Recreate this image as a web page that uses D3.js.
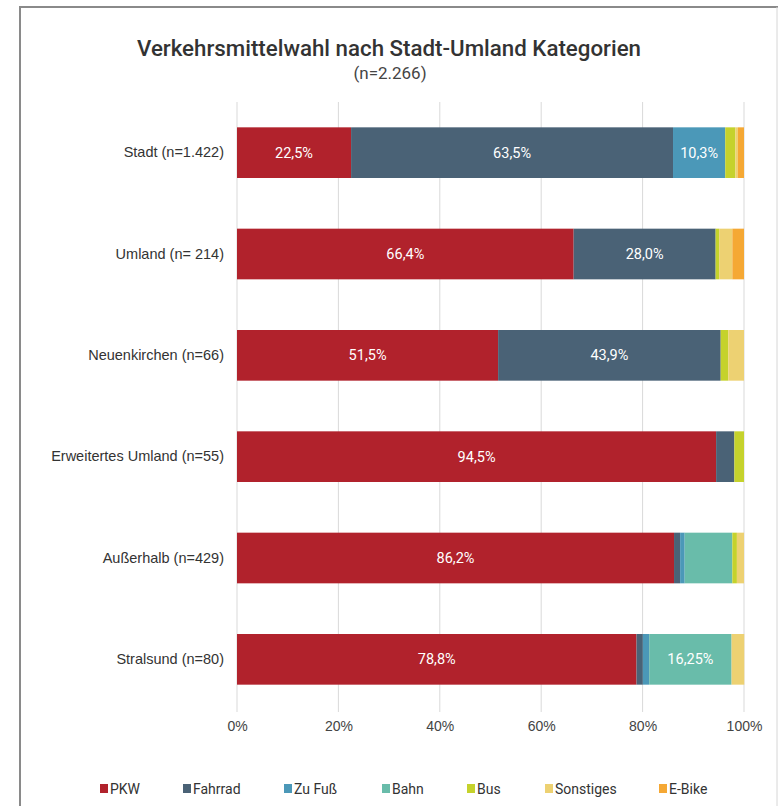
<!DOCTYPE html>
<html>
<head>
<meta charset="utf-8">
<script src="https://cdn.jsdelivr.net/npm/d3@7"></script>
<style>
  body { margin: 0; background: #fff; }
  svg { display: block; font-family: "Roboto", sans-serif; }
</style>
</head>
<body>
<div id="container"></div>
<script>
let w = 778;
let h = 806;

// data
let categories = ["Stadt (n=1.422)", "Umland (n= 214)", "Neuenkirchen (n=66)", "Erweitertes Umland (n=55)", "Außerhalb (n=429)", "Stralsund (n=80)"];
let modes = ["PKW", "Fahrrad", "Zu Fuß", "Bahn", "Bus", "Sonstiges", "E-Bike"];
let colors = ["#b1222c", "#4a6276", "#4b98b8", "#69bcaa", "#c5d22c", "#edd172", "#f5a834"];
let pkw       = [22.5, 66.4, 51.5, 94.5, 86.2, 78.8];
let fahrrad   = [63.5, 28.0, 43.9, 3.6, 1.2, 1.25];
let zuFuss    = [10.3, 0, 0, 0, 0.9, 1.25];
let bahn      = [0, 0, 0, 0, 9.4, 16.25];
let bus       = [2.0, 0.7, 1.5, 1.9, 0.9, 0];
let sonstiges = [0.5, 2.6, 3.1, 0, 1.4, 2.5];
let eBike     = [1.2, 2.3, 0, 0, 0, 0];
let labelText = [["22,5%", "63,5%", "10,3%", "", "", "", ""],
                 ["66,4%", "28,0%", "", "", "", "", ""],
                 ["51,5%", "43,9%", "", "", "", "", ""],
                 ["94,5%", "", "", "", "", "", ""],
                 ["86,2%", "", "", "", "", "", ""],
                 ["78,8%", "", "", "16,25%", "", "", ""]];
let xTicks = [0, 20, 40, 60, 80, 100];

let series = [pkw, fahrrad, zuFuss, bahn, bus, sonstiges, eBike];
let rows = categories.map((c, i) => {
  let r = { cat: c };
  modes.forEach((m, j) => r[m] = series[j][i]);
  return r;
});

let viz = d3.select("#container")
  .append("svg")
  .attr("width", w)
  .attr("height", h);

// frame
viz.append("line").attr("x1", 20).attr("x2", 20).attr("y1", 7).attr("y2", h).attr("stroke", "#8a8a8a").attr("stroke-width", 2);
viz.append("line").attr("x1", 19).attr("x2", w).attr("y1", 7).attr("y2", 7).attr("stroke", "#8a8a8a").attr("stroke-width", 2);
viz.append("line").attr("x1", 777).attr("x2", 777).attr("y1", 7).attr("y2", h).attr("stroke", "#d6d6d6").attr("stroke-width", 1);

// title
viz.append("text").attr("x", 389).attr("y", 56).attr("text-anchor", "middle")
  .attr("font-size", 22.3).attr("font-weight", 500).attr("fill", "#333")
  .text("Verkehrsmittelwahl nach Stadt-Umland Kategorien");
viz.append("text").attr("x", 390).attr("y", 79).attr("text-anchor", "middle")
  .attr("font-size", 17).attr("fill", "#444")
  .text("(n=2.266)");

// scales
let xScale = d3.scaleLinear().domain([0, 100]).range([237, 744]);
let yScale = d3.scaleBand().domain(categories).range([102, 710]).paddingInner(0.5).paddingOuter(0.25);

// grid
viz.append("g").selectAll("line").data(xTicks).enter().append("line")
  .attr("x1", d => xScale(d)).attr("x2", d => xScale(d))
  .attr("y1", 102).attr("y2", 712)
  .attr("stroke", "#d9d9d9").attr("stroke-width", 1);

// x axis
let xAxis = d3.axisBottom(xScale).tickValues(xTicks).tickSize(0).tickPadding(0).tickFormat(d => d + "%");
let xAxisGroup = viz.append("g").attr("class", "xaxis")
  .attr("transform", "translate(0," + 721 + ")")
  .call(xAxis);
xAxisGroup.select(".domain").remove();
xAxisGroup.selectAll("text").attr("font-size", 14).attr("fill", "#444").attr("font-family", null);

// y axis
let yAxis = d3.axisLeft(yScale).tickSize(0).tickPadding(13);
let yAxisGroup = viz.append("g").attr("class", "yaxis")
  .attr("transform", "translate(" + 237 + ",0)")
  .call(yAxis);
yAxisGroup.select(".domain").remove();
yAxisGroup.selectAll("text").attr("font-size", 14.5).attr("fill", "#333").attr("font-family", null);

// stacks
let stacked = d3.stack().keys(modes)(rows);
let layers = viz.append("g").selectAll("g").data(stacked).enter().append("g")
  .attr("fill", (d, i) => colors[i]);

layers.selectAll("rect").data(d => d).enter().append("rect")
  .attr("x", d => xScale(d[0]))
  .attr("y", d => yScale(d.data.cat))
  .attr("width", d => Math.max(0, xScale(d[1]) - xScale(d[0])))
  .attr("height", yScale.bandwidth());

layers.each(function (layer, j) {
  d3.select(this).selectAll("text").data(layer).enter().append("text")
    .attr("x", d => (xScale(d[0]) + xScale(d[1])) / 2)
    .attr("y", d => yScale(d.data.cat) + yScale.bandwidth() / 2 + 5)
    .attr("text-anchor", "middle")
    .attr("font-size", 14.5)
    .attr("fill", "#fff")
    .text((d, i) => labelText[i][j]);
});

// legend
let legendX = [100, 183, 284, 382, 467, 545, 659];
let legend = viz.append("g").selectAll("g").data(modes).enter().append("g")
  .attr("transform", (d, i) => "translate(" + legendX[i] + "," + 784 + ")");
legend.append("rect").attr("width", 8).attr("height", 9).attr("fill", (d, i) => colors[i]);
legend.append("text").attr("x", 10).attr("y", 9.5).attr("font-size", 14).attr("fill", "#333").text(d => d);
</script>
</body>
</html>
